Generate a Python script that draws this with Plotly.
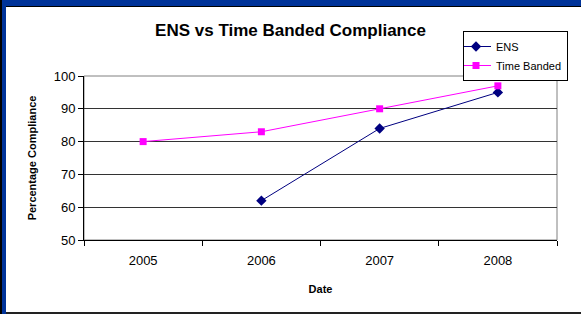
import plotly.graph_objects as go

years = ["2005", "2006", "2007", "2008"]
ens_values = [None, 62, 84, 95]
time_banded_values = [80, 83, 90, 97]
y_ticks = [50, 60, 70, 80, 90, 100]

W, H = 581, 314
L, R, T, B = 84, 557, 76, 240


def px_x(x):
    return (x - L) / (R - L)


def px_y(y):
    return (B - y) / (B - T)


FONT = "Arial, Liberation Sans, sans-serif"

fig = go.Figure()
fig.add_trace(go.Scatter(
    x=years, y=ens_values, name="ENS", mode="lines+markers",
    line=dict(color="#000080", width=1),
    marker=dict(symbol="diamond", size=8, color="#000080"),
    connectgaps=False,
))
fig.add_trace(go.Scatter(
    x=years, y=time_banded_values, name="Time Banded", mode="lines+markers",
    line=dict(color="#FF00FF", width=1),
    marker=dict(symbol="square", size=7, color="#FF00FF"),
))

shapes = [
    dict(type="rect", xref="paper", yref="paper", x0=px_x(0), x1=px_x(W), y0=px_y(6), y1=px_y(0),
         fillcolor="#003399", line=dict(width=0), layer="above"),
    dict(type="line", xref="paper", yref="paper", x0=px_x(6), x1=px_x(W), y0=px_y(6.5), y1=px_y(6.5),
         line=dict(color="#000000", width=1), layer="above"),
    dict(type="rect", xref="paper", yref="paper", x0=px_x(0), x1=px_x(6), y0=px_y(H), y1=px_y(0),
         fillcolor="#003399", line=dict(width=0), layer="above"),
    dict(type="rect", xref="paper", yref="paper", x0=px_x(0), x1=px_x(2), y0=px_y(H), y1=px_y(0),
         fillcolor="#000000", line=dict(width=0), layer="above"),
    dict(type="rect", xref="paper", yref="paper", x0=px_x(6), x1=px_x(W), y0=px_y(H), y1=px_y(312),
         fillcolor="#222222", line=dict(width=0), layer="above"),
    dict(type="rect", xref="paper", yref="paper", x0=0, x1=1, y0=0, y1=1,
         line=dict(color="#808080", width=1), layer="below"),
]

fig.update_layout(
    width=W, height=H,
    margin=dict(l=L, r=W - R, t=T, b=H - B, autoexpand=False),
    paper_bgcolor="white", plot_bgcolor="white",
    font=dict(family=FONT, color="#000000", size=13),
    title=dict(text="<b>ENS vs Time Banded Compliance</b>", x=0.5, xanchor="center",
               y=1 - 30 / H, yanchor="middle", font=dict(size=17, family=FONT)),
    showlegend=True,
    legend=dict(x=px_x(463), y=px_y(31), xanchor="left", yanchor="top",
                bgcolor="white", bordercolor="#000000", borderwidth=1,
                font=dict(size=11, family=FONT), itemwidth=30, tracegroupgap=0,
                indentation=-8),
    xaxis=dict(type="category", range=[-0.5, 3.5], showgrid=False,
               ticks="outside", tickson="boundaries", ticklen=5, tickcolor="#000",
               showline=True, linecolor="#000000", linewidth=1,
               ticklabelstandoff=8,
               title=dict(text="<b>Date</b>", font=dict(size=11), standoff=18),
               tickfont=dict(size=13)),
    yaxis=dict(range=[50, 100], tickvals=y_ticks, showgrid=True, gridcolor="#333333", gridwidth=1,
               ticks="outside", ticklen=5, tickcolor="#000",
               showline=True, linecolor="#000000", linewidth=1, zeroline=False,
               title=dict(text="<b>Percentage Compliance</b>", font=dict(size=11), standoff=14),
               tickfont=dict(size=13)),
    shapes=shapes,
)

fig.write_html(
    "out.html",
    config={"displayModeBar": False},
    post_script="document.body.style.margin='0';document.body.style.overflow='hidden';",
)
